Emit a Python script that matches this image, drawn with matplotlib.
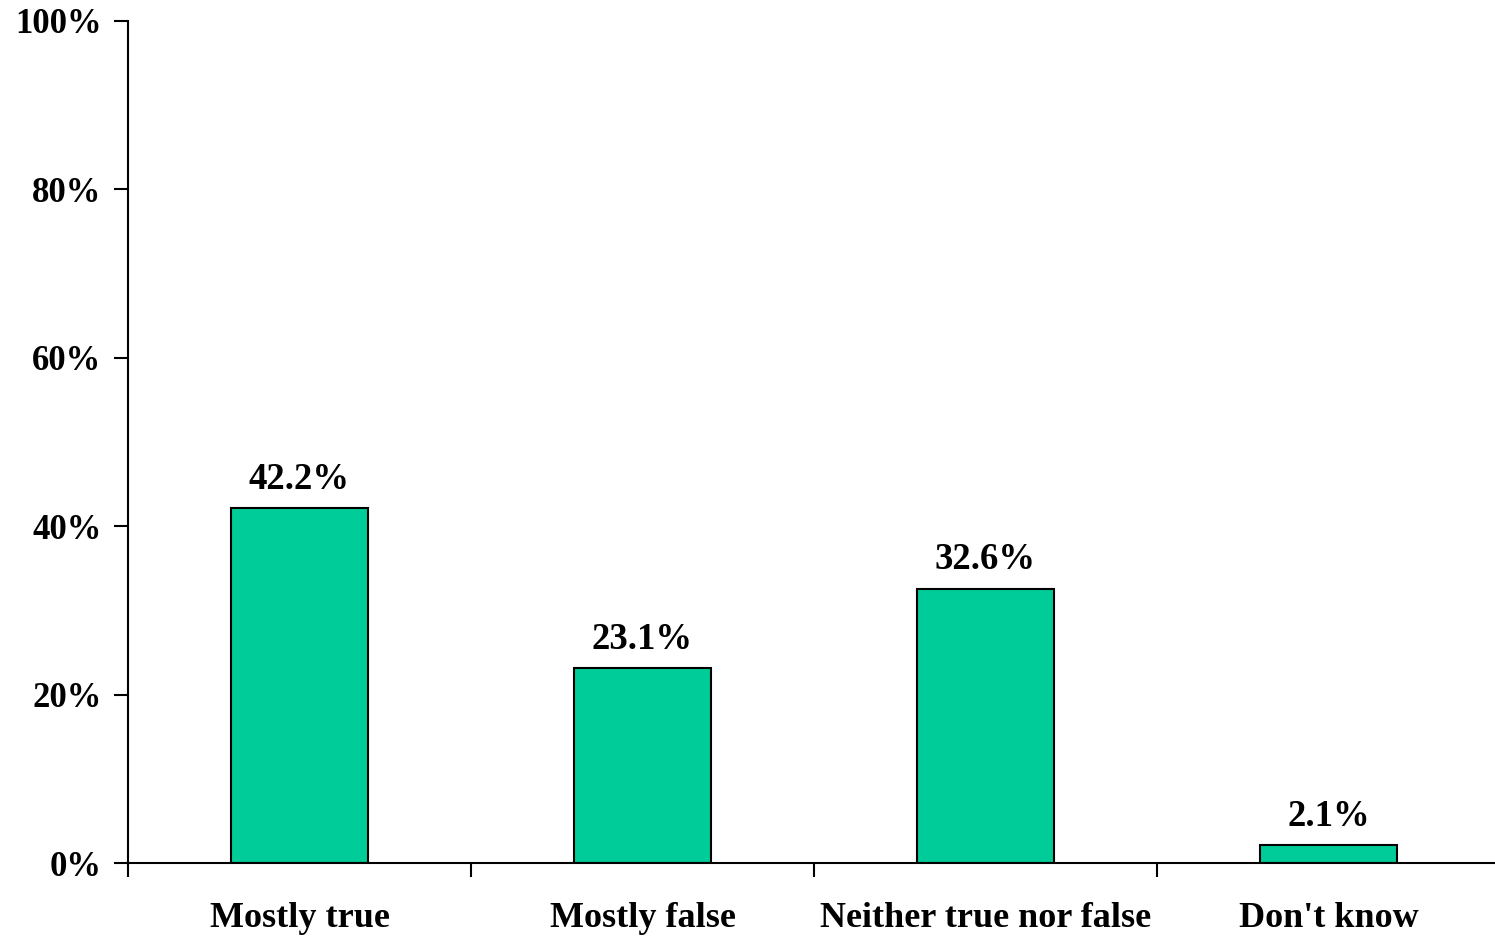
import matplotlib
matplotlib.use('Agg')
import matplotlib.pyplot as plt
from matplotlib.ticker import FixedLocator, PercentFormatter

categories = ['Mostly true', 'Mostly false', 'Neither true nor false', "Don't know"]
values = [42.2, 23.1, 32.6, 2.1]
value_labels = ['42.2%', '23.1%', '32.6%', '2.1%']
y_ticks = [0, 20, 40, 60, 80, 100]

plt.rcParams['font.family'] = ['Liberation Serif', 'DejaVu Serif']
plt.rcParams['font.weight'] = 'bold'

fig = plt.figure(figsize=(14.95, 9.36), dpi=100)
ax = fig.add_axes([128 / 1495, 73 / 936, 1372 / 1495, 842 / 936])

x = range(len(categories))
bars = ax.bar(x, values, width=0.40, color='#00CC99', edgecolor='black', linewidth=1.5)

# value labels above each bar
for b, lab in zip(bars, value_labels):
    ax.annotate(lab, (b.get_x() + b.get_width() / 2, b.get_height()),
                xytext=(0, 8), textcoords='offset points',
                ha='center', va='bottom', fontsize=26.5, fontweight='bold')

ax.set_xlim(-0.5, len(categories) - 0.5)
ax.set_ylim(0, 100)

# category labels centred, ticks between categories
ax.set_xticks(list(x))
ax.set_xticklabels(categories, fontsize=26, fontweight='bold')
ax.tick_params(axis='x', which='major', length=0, pad=28)
ax.xaxis.set_minor_locator(FixedLocator([i - 0.5 for i in range(len(categories) + 1)]))
ax.tick_params(axis='x', which='minor', length=10, width=1.5, direction='out')

ax.set_yticks(y_ticks)
ax.yaxis.set_major_formatter(PercentFormatter(decimals=0))
ax.tick_params(axis='y', length=10, width=1.5, direction='out', labelsize=25, pad=9)
for t in ax.get_yticklabels():
    t.set_fontweight('bold')

ax.spines['top'].set_visible(False)
ax.spines['right'].set_visible(False)
ax.spines['left'].set_linewidth(1.5)
ax.spines['bottom'].set_linewidth(1.5)

fig.savefig('out.png', dpi=100)
